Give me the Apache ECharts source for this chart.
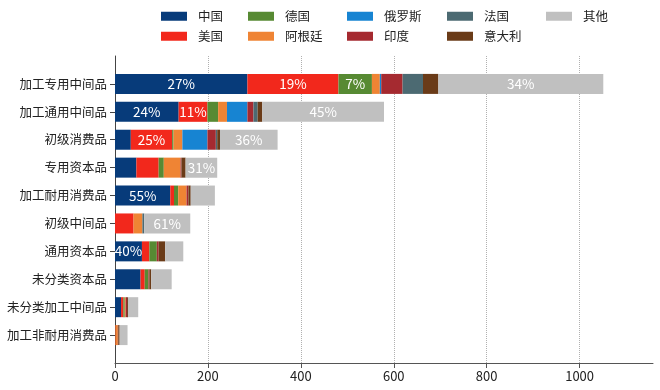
<!DOCTYPE html>
<html>
<head>
<meta charset="utf-8">
<script src="https://cdn.jsdelivr.net/npm/echarts@6/dist/echarts.min.js"></script>
<style>
html,body{margin:0;padding:0;background:#fff;}
#chart{width:660px;height:390px;}
</style>
</head>
<body>
<div id="chart"></div>
<script>
var categories = ['加工专用中间品','加工通用中间品','初级消费品','专用资本品','加工耐用消费品','初级中间品','通用资本品','未分类资本品','未分类加工中间品','加工非耐用消费品'];
var seriesNames = ['中国','美国','德国','阿根廷','俄罗斯','印度','法国','意大利','其他'];
var china     = [285,137, 34, 46,119,  0, 58, 55, 13,  0];
var usa       = [196, 62, 89, 48,  8, 40, 16,  9,  5,  1];
var germany   = [ 72, 23,  3, 11,  9,  0, 16,  8,  3,  0];
var argentina = [ 17, 19, 19, 36, 18, 19,  0,  0,  2,  5];
var russia    = [  3, 44, 54,  0,  0,  0,  0,  0,  0,  0];
var india     = [ 46, 13, 18,  2,  4,  0,  4,  2,  3,  1];
var france    = [ 44,  9,  3,  0,  0,  4,  0,  0,  0,  0];
var italy     = [ 33, 10,  6,  9,  5,  0, 14,  4,  2,  3];
var others    = [355,262,124, 68, 52, 99, 39, 44, 22, 17];
var chinaLabels  = ['27%','24%','','','55%','','40%','','',''];
var usaLabels    = ['19%','11%','25%','','','','','','',''];
var germanyLabels= ['7%','','','','','','','','',''];
var othersLabels = ['34%','45%','36%','31%','','61%','','','',''];
var xTicks = [0,200,400,600,800,1000];

var values = [china,usa,germany,argentina,russia,india,france,italy,others];
var labelSets = [chinaLabels,usaLabels,germanyLabels,null,null,null,null,null,othersLabels];
var colors = ['#073b7a','#f2281c','#578a33','#ef8434','#1784d2','#a52a30','#4c6a72','#6a3b18','#c0c0c0'];

var font = 'Noto Sans CJK SC';
var yCats = [''].concat(categories).concat(['']);

var series = values.map(function(arr, si){
  var labs = labelSets[si];
  var data = ['-'].concat(arr.map(function(v, i){
    var t = labs ? labs[i] : '';
    return {value: v, label: {show: !!t, formatter: t}};
  })).concat(['-']);
  return {
    name: seriesNames[si], type: 'bar', stack: 'total', barWidth: 20,
    itemStyle: {color: colors[si]},
    label: {show: false, position: 'inside', color: '#fff', fontSize: 13.5, fontFamily: font},
    data: data, z: 3
  };
});
series.push({
  type: 'line', data: [], z: 0, silent: true,
  markLine: {
    silent: true, z: 0, symbol: ['none','none'], label: {show: false},
    lineStyle: {type: 'dotted', color: '#b0b0b0', width: 1},
    data: xTicks.slice(1).map(function(v){ return {xAxis: v}; })
  }
});

var legendPos = {
  '中国': [161, 10], '德国': [248, 10], '俄罗斯': [347, 10], '法国': [447, 10], '其他': [546, 10],
  '美国': [161, 30], '阿根廷': [248, 30], '印度': [347, 30], '意大利': [447, 30]
};
var legends = seriesNames.map(function(n){
  return {
    data: [n], left: legendPos[n][0], top: legendPos[n][1], padding: 0,
    itemWidth: 26, itemHeight: 9, icon: 'rect', selectedMode: false,
    textStyle: {fontSize: 12.5, color: '#222', fontFamily: font, padding: [0,0,0,6]}
  };
});

var chart = echarts.init(document.getElementById('chart'), null, {renderer: 'canvas'});
chart.setOption({
  animation: false,
  color: colors,
  textStyle: {fontFamily: font},
  legend: legends,
  grid: {left: 115, right: 7, top: 56, bottom: 27, containLabel: false},
  xAxis: {
    type: 'value', min: 0, max: 1158, interval: 200,
    axisLine: {show: true, lineStyle: {color: '#555', width: 1}},
    axisTick: {show: true, length: 5, customValues: xTicks, lineStyle: {color: '#555'}},
    axisLabel: {customValues: xTicks, fontSize: 13, color: '#222', margin: 7, fontFamily: font,
      formatter: function(v){ return String(v); }},
    splitLine: {show: false}
  },
  yAxis: {
    type: 'category', inverse: true, boundaryGap: false, data: yCats,
    axisLine: {show: true, lineStyle: {color: '#444', width: 1}},
    axisTick: {show: true, length: 5, interval: function(i, v){ return v !== ''; }, lineStyle: {color: '#444'}},
    axisLabel: {interval: 0, fontSize: 12.5, color: '#222', margin: 8, fontFamily: font},
    splitLine: {show: false}
  },
  series: series
});
</script>
</body>
</html>
